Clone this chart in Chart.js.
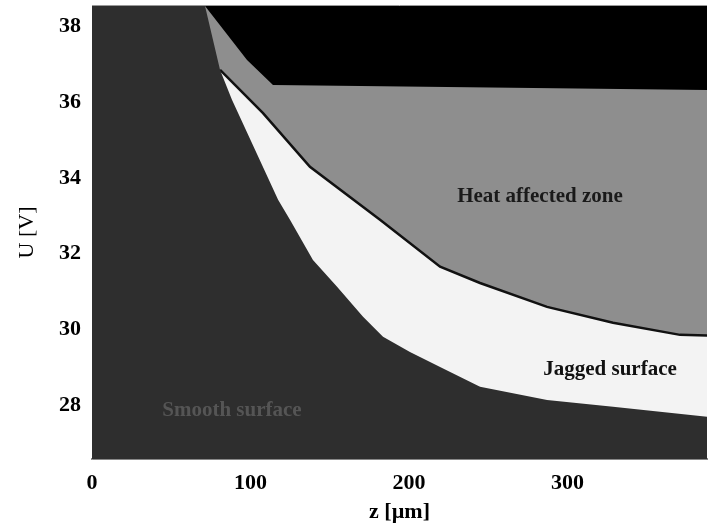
<!DOCTYPE html>
<html>
<head>
<meta charset="utf-8">
<script src="https://cdn.jsdelivr.net/npm/chart.js@4.4.1/dist/chart.umd.min.js"></script>
<style>
  html, body { margin: 0; padding: 0; background: #fff; }
  #wrap { width: 709px; height: 531px; }
</style>
</head>
<body>
<div id="wrap"><canvas id="chart"></canvas></div>
<script>
'use strict'

// axis ticks
const zTicks = [0, 100, 200, 300];
const uTicks = [28, 30, 32, 34, 36, 38];

// black zone / heat affected zone boundary
const hazTopZ = [0, 71.3, 97.8, 114.2, 389];
const hazTopU = [38.54, 38.54, 37.11, 36.45, 36.32];

// heat affected zone / jagged surface boundary (dark line)
const jaggedTopZ = [80.8, 107.9, 137.5, 181.7, 219.6, 244.8, 287.1, 328.7, 371.0, 389];
const jaggedTopU = [36.85, 35.71, 34.29, 32.89, 31.65, 31.22, 30.59, 30.17, 29.85, 29.83];

// jagged surface / smooth surface boundary
const smoothTopZ = [0, 71.3, 80.8, 88.3, 117.4, 124.9, 139.4, 154.6, 171.0, 183.6, 200.6, 219.6, 244.8, 287.1, 328.7, 389];
const smoothTopU = [38.54, 38.54, 36.85, 36.06, 33.42, 32.89, 31.83, 31.12, 30.33, 29.80, 29.40, 29.00, 28.48, 28.13, 27.95, 27.68];

// region names and where they sit (z, U)
const regionNames = ['Heat affected zone', 'Jagged surface', 'Smooth surface'];
const regionZ = [282.6, 326.8, 88.3];
const regionU = [33.5, 28.92, 27.84];

const zMin = 0, zMax = 388;
const uMin = 26.57, uMax = 38.54;

function toPoints(xs, ys){
  return xs.map((x, i) => ({x: x, y: ys[i]}));
}

const serif = '"Liberation Serif", "DejaVu Serif", serif';

const regionLabels = {
  id: 'regionLabels',
  afterDatasetsDraw(chart){
    const {ctx, chartArea, scales: {x, y}} = chart;
    const colors = ['#1a1a1a', '#111', '#555'];
    ctx.save();
    ctx.font = 'bold 21px ' + serif;
    ctx.textAlign = 'center';
    ctx.textBaseline = 'middle';
    regionNames.forEach((name, i) => {
      ctx.fillStyle = colors[i];
      ctx.fillText(name, x.getPixelForValue(regionZ[i]), y.getPixelForValue(regionU[i]));
    });
    // thin frame on top
    ctx.strokeStyle = '#999';
    ctx.lineWidth = 1;
    ctx.beginPath();
    ctx.moveTo(chartArea.left, chartArea.top - 0.5);
    ctx.lineTo(chartArea.right, chartArea.top - 0.5);
    ctx.stroke();
    ctx.restore();
  }
}

const ctx = document.getElementById('chart').getContext('2d');

const myChart = new Chart(ctx, {
  type: 'line',
  data: {
    datasets: [
      {
        label: 'Smooth surface',
        data: toPoints(smoothTopZ, smoothTopU),
        fill: 'start',
        backgroundColor: '#2e2e2e',
        borderWidth: 0,
        pointRadius: 0
      },
      {
        label: 'Jagged surface',
        data: toPoints(jaggedTopZ, jaggedTopU),
        fill: 'start',
        backgroundColor: '#f3f3f3',
        borderColor: '#111',
        borderWidth: 2.5,
        pointRadius: 0
      },
      {
        label: 'Heat affected zone',
        data: toPoints(hazTopZ, hazTopU),
        fill: 'start',
        backgroundColor: '#8e8e8e',
        borderWidth: 0,
        pointRadius: 0
      },
      {
        label: 'Top',
        data: toPoints([zMin, 389], [uMax, uMax]),
        fill: 'start',
        backgroundColor: '#000',
        borderWidth: 0,
        pointRadius: 0
      }
    ]
  },
  options: {
    responsive: true,
    maintainAspectRatio: false,
    animation: false,
    layout: { padding: { top: 6, right: 2, left: 0, bottom: 0 } },
    plugins: {
      legend: { display: false },
      tooltip: { enabled: false }
    },
    scales: {
      x: {
        type: 'linear',
        min: zMin,
        max: zMax,
        afterBuildTicks: (scale) => { scale.ticks = zTicks.map(v => ({value: v})); },
        afterFit: (scale) => { scale.height = 72; scale.paddingLeft = 0; scale.paddingRight = 0; },
        grid: { display: false },
        border: { display: true, color: '#888', width: 2 },
        ticks: { color: '#000', font: { family: serif, size: 22, weight: 'bold' }, padding: 3, maxRotation: 0 },
        title: { display: true, text: 'z [µm]', color: '#000', font: { family: serif, size: 22, weight: 'bold' }, padding: { top: 0, bottom: 5 } }
      },
      y: {
        type: 'linear',
        min: uMin,
        max: uMax,
        afterBuildTicks: (scale) => { scale.ticks = uTicks.map(v => ({value: v})); },
        afterFit: (scale) => { scale.width = 92; scale.paddingTop = 0; scale.paddingBottom = 0; },
        grid: { display: false },
        border: { display: true, color: '#999', width: 1 },
        ticks: { color: '#000', font: { family: serif, size: 22, weight: 'bold' }, padding: 3 },
        title: { display: true, text: 'U [V]', color: '#000', font: { family: serif, size: 22 }, padding: { top: 14, bottom: 0 } }
      }
    }
  },
  plugins: [regionLabels]
});
</script>
</body>
</html>
